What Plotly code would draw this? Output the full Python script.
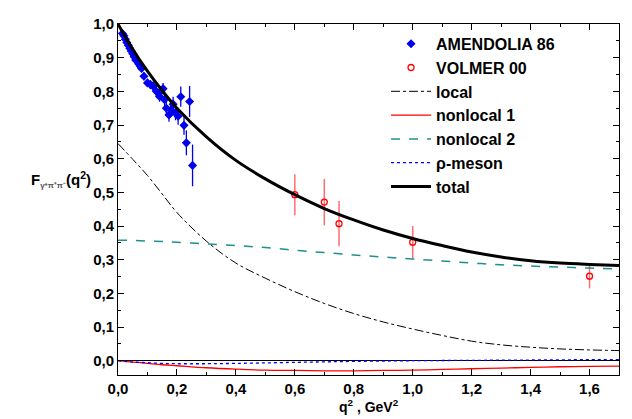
import plotly.graph_objects as go

# AMENDOLIA 86
am_q2 = [0.015, 0.020, 0.025, 0.030, 0.035, 0.040, 0.045, 0.050, 0.055, 0.060, 0.065, 0.070,
         0.075, 0.080, 0.088, 0.100, 0.110, 0.119, 0.130, 0.141, 0.145, 0.153, 0.158, 0.164,
         0.173, 0.180, 0.187, 0.195, 0.204, 0.213, 0.224, 0.232, 0.243, 0.253]
am_f = [0.972, 0.965, 0.955, 0.945, 0.937, 0.928, 0.920, 0.912, 0.903, 0.893, 0.890, 0.882,
        0.875, 0.868, 0.845, 0.825, 0.820, 0.815, 0.800, 0.785, 0.800, 0.808, 0.775, 0.750,
        0.730, 0.745, 0.762, 0.736, 0.726, 0.784, 0.699, 0.647, 0.770, 0.580]
am_err = [0.008, 0.008, 0.008, 0.008, 0.008, 0.008, 0.009, 0.009, 0.009, 0.009, 0.010, 0.010,
          0.010, 0.011, 0.012, 0.012, 0.013, 0.014, 0.015, 0.016, 0.016, 0.017, 0.018, 0.018,
          0.020, 0.020, 0.022, 0.022, 0.025, 0.030, 0.028, 0.037, 0.046, 0.062]

# VOLMER 00
vo_q2 = [0.60, 0.70, 0.75, 1.00, 1.60]
vo_f = [0.493, 0.471, 0.407, 0.352, 0.251]
vo_err = [0.061, 0.069, 0.067, 0.048, 0.036]

# model curves
c_q2 = [0.0, 0.05, 0.1, 0.15, 0.2, 0.3, 0.4, 0.5, 0.6, 0.7, 0.8, 0.9, 1.0, 1.1, 1.2, 1.3, 1.4, 1.5, 1.6, 1.7]
local = [0.645, 0.598, 0.55, 0.495, 0.44, 0.355, 0.29, 0.245, 0.205, 0.17, 0.14, 0.115, 0.094,
         0.075, 0.058, 0.047, 0.04, 0.035, 0.032, 0.03]
nonlocal1 = [0.0, -0.004, -0.008, -0.012, -0.015, -0.021, -0.025, -0.028, -0.029, -0.030, -0.030,
             -0.029, -0.028, -0.026, -0.024, -0.022, -0.020, -0.018, -0.017, -0.016]
nonlocal2 = [0.358, 0.357, 0.355, 0.354, 0.352, 0.347, 0.342, 0.336, 0.328, 0.321, 0.314, 0.308,
             0.302, 0.296, 0.29, 0.285, 0.281, 0.278, 0.275, 0.273]
rho = [0.0, -0.004, -0.006, -0.008, -0.009, -0.009, -0.008, -0.0065, -0.005, -0.0035, -0.002,
       -0.001, 0.0, 0.0005, 0.001, 0.0015, 0.002, 0.0025, 0.003, 0.003]
total = [1.0, 0.925, 0.86, 0.802, 0.75, 0.665, 0.595, 0.54, 0.493, 0.452, 0.418, 0.388, 0.363,
         0.342, 0.323, 0.308, 0.297, 0.29, 0.286, 0.283]

FONT = "Liberation Sans, Arial"

fig = go.Figure()
fig.add_trace(go.Scatter(x=am_q2, y=am_f, mode="markers", name="AMENDOLIA 86",
                         marker=dict(symbol="diamond", size=7, color="#0000ee"),
                         error_y=dict(type="data", array=am_err, color="#0000ee", thickness=1.3, width=0)))
fig.add_trace(go.Scatter(x=vo_q2, y=vo_f, mode="markers", name="VOLMER 00",
                         marker=dict(symbol="circle-open", size=6, color="#ff0000", line=dict(width=1.3)),
                         error_y=dict(type="data", array=vo_err, color="rgba(255,60,60,0.75)", thickness=1.5, width=0)))
fig.add_trace(go.Scatter(x=c_q2, y=local, mode="lines", name="local", line_shape="spline",
                         line=dict(color="black", width=1, dash="dashdot")))
fig.add_trace(go.Scatter(x=c_q2, y=nonlocal1, mode="lines", name="nonlocal 1", line_shape="spline",
                         line=dict(color="#ff0000", width=1.3)))
fig.add_trace(go.Scatter(x=c_q2, y=nonlocal2, mode="lines", name="nonlocal 2", line_shape="spline",
                         line=dict(color="#1f9090", width=1.5, dash="dash")))
fig.add_trace(go.Scatter(x=c_q2, y=rho, mode="lines", name="ρ-meson", line_shape="spline",
                         line=dict(color="#0000ff", width=1.3, dash="dot")))
fig.add_trace(go.Scatter(x=c_q2, y=total, mode="lines", name="total", line_shape="spline",
                         line=dict(color="black", width=3)))

axis_common = dict(showline=True, linecolor="black", linewidth=1, mirror="allticks",
                   ticks="inside", ticklen=6, tickcolor="black", showgrid=False, automargin=False,
                   tickfont=dict(family=FONT, size=15, color="black", weight="bold"))
fig.update_xaxes(range=[0, 1.7], dtick=0.2, tickformat=".1f", zeroline=False,
                 minor=dict(ticks="inside", dtick=0.1, ticklen=3, tickcolor="black"),
                 **axis_common)
fig.update_yaxes(range=[-0.0425, 1.0], dtick=0.1, tickformat=".1f",
                 zeroline=True, zerolinecolor="black", zerolinewidth=1,
                 minor=dict(ticks="inside", dtick=0.05, ticklen=3, tickcolor="black"),
                 **axis_common)

fig.add_annotation(xref="paper", yref="paper", x=-0.05, y=0.556, xanchor="right", yanchor="middle",
                   showarrow=False,
                   text="F<sub><span style='font-size:8px;color:#555'>γ*π⁺π⁻</span></sub>(q<sup>2</sup>)",
                   font=dict(family=FONT, size=15, color="black", weight="bold"))
fig.add_annotation(xref="paper", yref="paper", x=0.5, y=-0.088, xanchor="center", yanchor="middle",
                   showarrow=False, text="q<sup>2</sup> , GeV<sup>2</sup>",
                   font=dict(family=FONT, size=14, color="black", weight="bold"))

fig.update_layout(
    width=632, height=419, separators=", ",
    margin=dict(l=110, r=21, t=16, b=52, autoexpand=False),
    plot_bgcolor="white", paper_bgcolor="white",
    legend=dict(x=0.535, y=0.992, xanchor="left", yanchor="top", bgcolor="rgba(0,0,0,0)",
                font=dict(family=FONT, size=16, color="black", weight="bold"),
                itemwidth=40, tracegroupgap=0),
    showlegend=True,
)

fig.write_html("out.html")
